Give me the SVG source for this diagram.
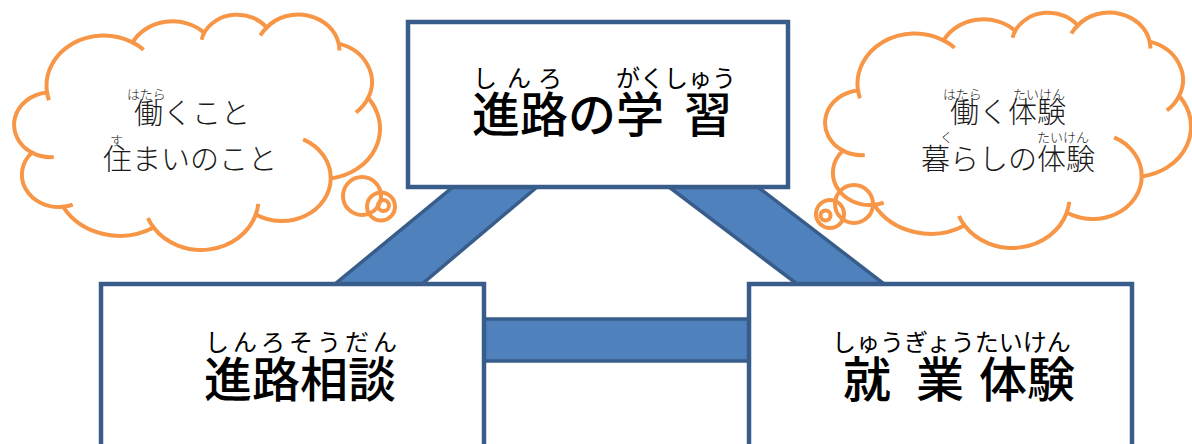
<svg xmlns="http://www.w3.org/2000/svg" width="1192" height="444" viewBox="0 0 1192 444">
<style>
.box{fill:#fff;stroke:#385D8A;stroke-width:4.5}
.band{fill:#4F81BD;stroke:#385D8A;stroke-width:3.5;stroke-linejoin:miter}
.cloud{fill:#fff;stroke:#F79646;stroke-width:4}
.tail{fill:none;stroke:#F79646;stroke-width:4}
.bub{fill:none;stroke:#F79646;stroke-width:4}
.big{font-family:"Noto Sans CJK JP","Noto Sans CJK SC",sans-serif;font-weight:500;font-size:48px;fill:#000}
.rb{font-family:"Noto Sans CJK JP","Noto Sans CJK SC",sans-serif;font-size:24px;fill:#000}
.ct{font-family:"Noto Sans CJK JP","Noto Sans CJK SC",sans-serif;font-size:29px;font-weight:300;fill:#1a1a1a}
.cr{font-family:"Noto Sans CJK JP","Noto Sans CJK SC",sans-serif;font-size:13px;font-weight:300;fill:#1a1a1a}
</style>
<defs>
<path id="cb" vector-effect="non-scaling-stroke" d="M3900,14370 A6753,9190 0 0 1 14000,5192 A5333,7267 0 0 1 22451,3422 A4365,5945 0 0 1 29828,2471 A4857,6595 0 0 1 38324,5426 A5333,7273 0 0 1 41798,15354 A6775,9220 0 0 1 37384,30097 A5785,7867 0 0 1 28536,36708 A6752,9215 0 0 1 16478,39090 A7720,10543 0 0 1 5802,35296 A4360,5918 0 0 1 2111,25374 A4345,5945 0 0 1 3900,14370 Z"/>
<path id="ctl" vector-effect="non-scaling-stroke" d="M4693,26177 A4345,5945 0 0 1 2111,25374 M6928,34899 A4360,5918 0 0 1 5802,35296 M16478,39090 A6752,9215 0 0 1 15809,37348 M28827,34751 A6752,9215 0 0 1 28536,36708 M34129,22954 A5785,7867 0 0 1 37384,30097 M41798,15354 A5333,7273 0 0 1 40350,18030 M38324,5426 A4857,6595 0 0 1 38401,6690 M29078,3952 A4857,6595 0 0 1 29828,2471 M22141,4720 A4365,5945 0 0 1 22451,3422 M14000,5192 A6753,9190 0 0 1 15300,6540 M4127,15789 A6753,9190 0 0 1 3900,14370"/>
</defs>

<g id="connectors">
<polygon class="band" points="461.5,180 545.3,180 414.9,290 327.7,290"/>
<polygon class="band" points="659.7,180 748.8,180 892,290 805,290"/>
<rect class="band" x="478" y="319" width="278" height="42"/>
</g>

<g id="node-top">
<rect class="box" x="408" y="22" width="380" height="165"/>
<text class="rb" x="473 507 538" y="87">しんろ</text>
<text class="rb" x="616" y="87">がくしゅう</text>
<text class="big" x="472" y="132">進路の学</text>
<text class="big" x="684" y="132">習</text>
</g>

<g id="node-left">
<rect class="box" x="101" y="284" width="383" height="180"/>
<text class="rb" x="205" y="351" textLength="192" lengthAdjust="spacing">しんろそうだん</text>
<text class="big" x="204" y="397">進路相談</text>
</g>

<g id="node-right">
<rect class="box" x="749" y="284" width="383" height="180"/>
<text class="rb" x="832" y="351">しゅうぎょうたいけん</text>
<text class="big" x="843" y="397">就</text>
<text class="big" x="916" y="397">業</text>
<text class="big" x="979" y="397">体験</text>
</g>

<g id="cloud-left">
<circle cx="362" cy="196" r="19" fill="#fff"/>
<circle cx="381" cy="206.5" r="14" fill="#fff"/>
<g transform="translate(14,14) scale(0.0084722,0.0054630)">
<use href="#cb" class="cloud"/>
<use href="#ctl" class="tail"/>
</g>
<circle class="bub" cx="362" cy="196" r="19"/>
<circle class="bub" cx="381" cy="206.5" r="14"/>
<circle class="bub" cx="383.5" cy="205.5" r="5.5"/>
<text class="cr" x="127" y="99">はたら</text>
<text class="ct" x="134" y="124">働くこと</text>
<text class="cr" x="110" y="145">す</text>
<text class="ct" x="103" y="170">住まいのこと</text>
</g>

<g id="cloud-right">
<circle cx="854" cy="204" r="19" fill="#fff"/>
<circle cx="830" cy="214" r="14" fill="#fff"/>
<g transform="translate(825,12) scale(0.0084722,0.0054630)">
<use href="#cb" class="cloud"/>
<use href="#ctl" class="tail"/>
</g>
<circle class="bub" cx="854" cy="204" r="19"/>
<circle class="bub" cx="830" cy="214" r="14"/>
<circle class="bub" cx="825.5" cy="215.5" r="5"/>
<text class="cr" x="943" y="99">はたら</text>
<text class="cr" x="1013" y="99">たいけん</text>
<text class="ct" x="950" y="123">働く体験</text>
<text class="cr" x="940" y="142">く</text>
<text class="cr" x="1037" y="142">たいけん</text>
<text class="ct" x="921" y="170">暮らしの体験</text>
</g>
</svg>
